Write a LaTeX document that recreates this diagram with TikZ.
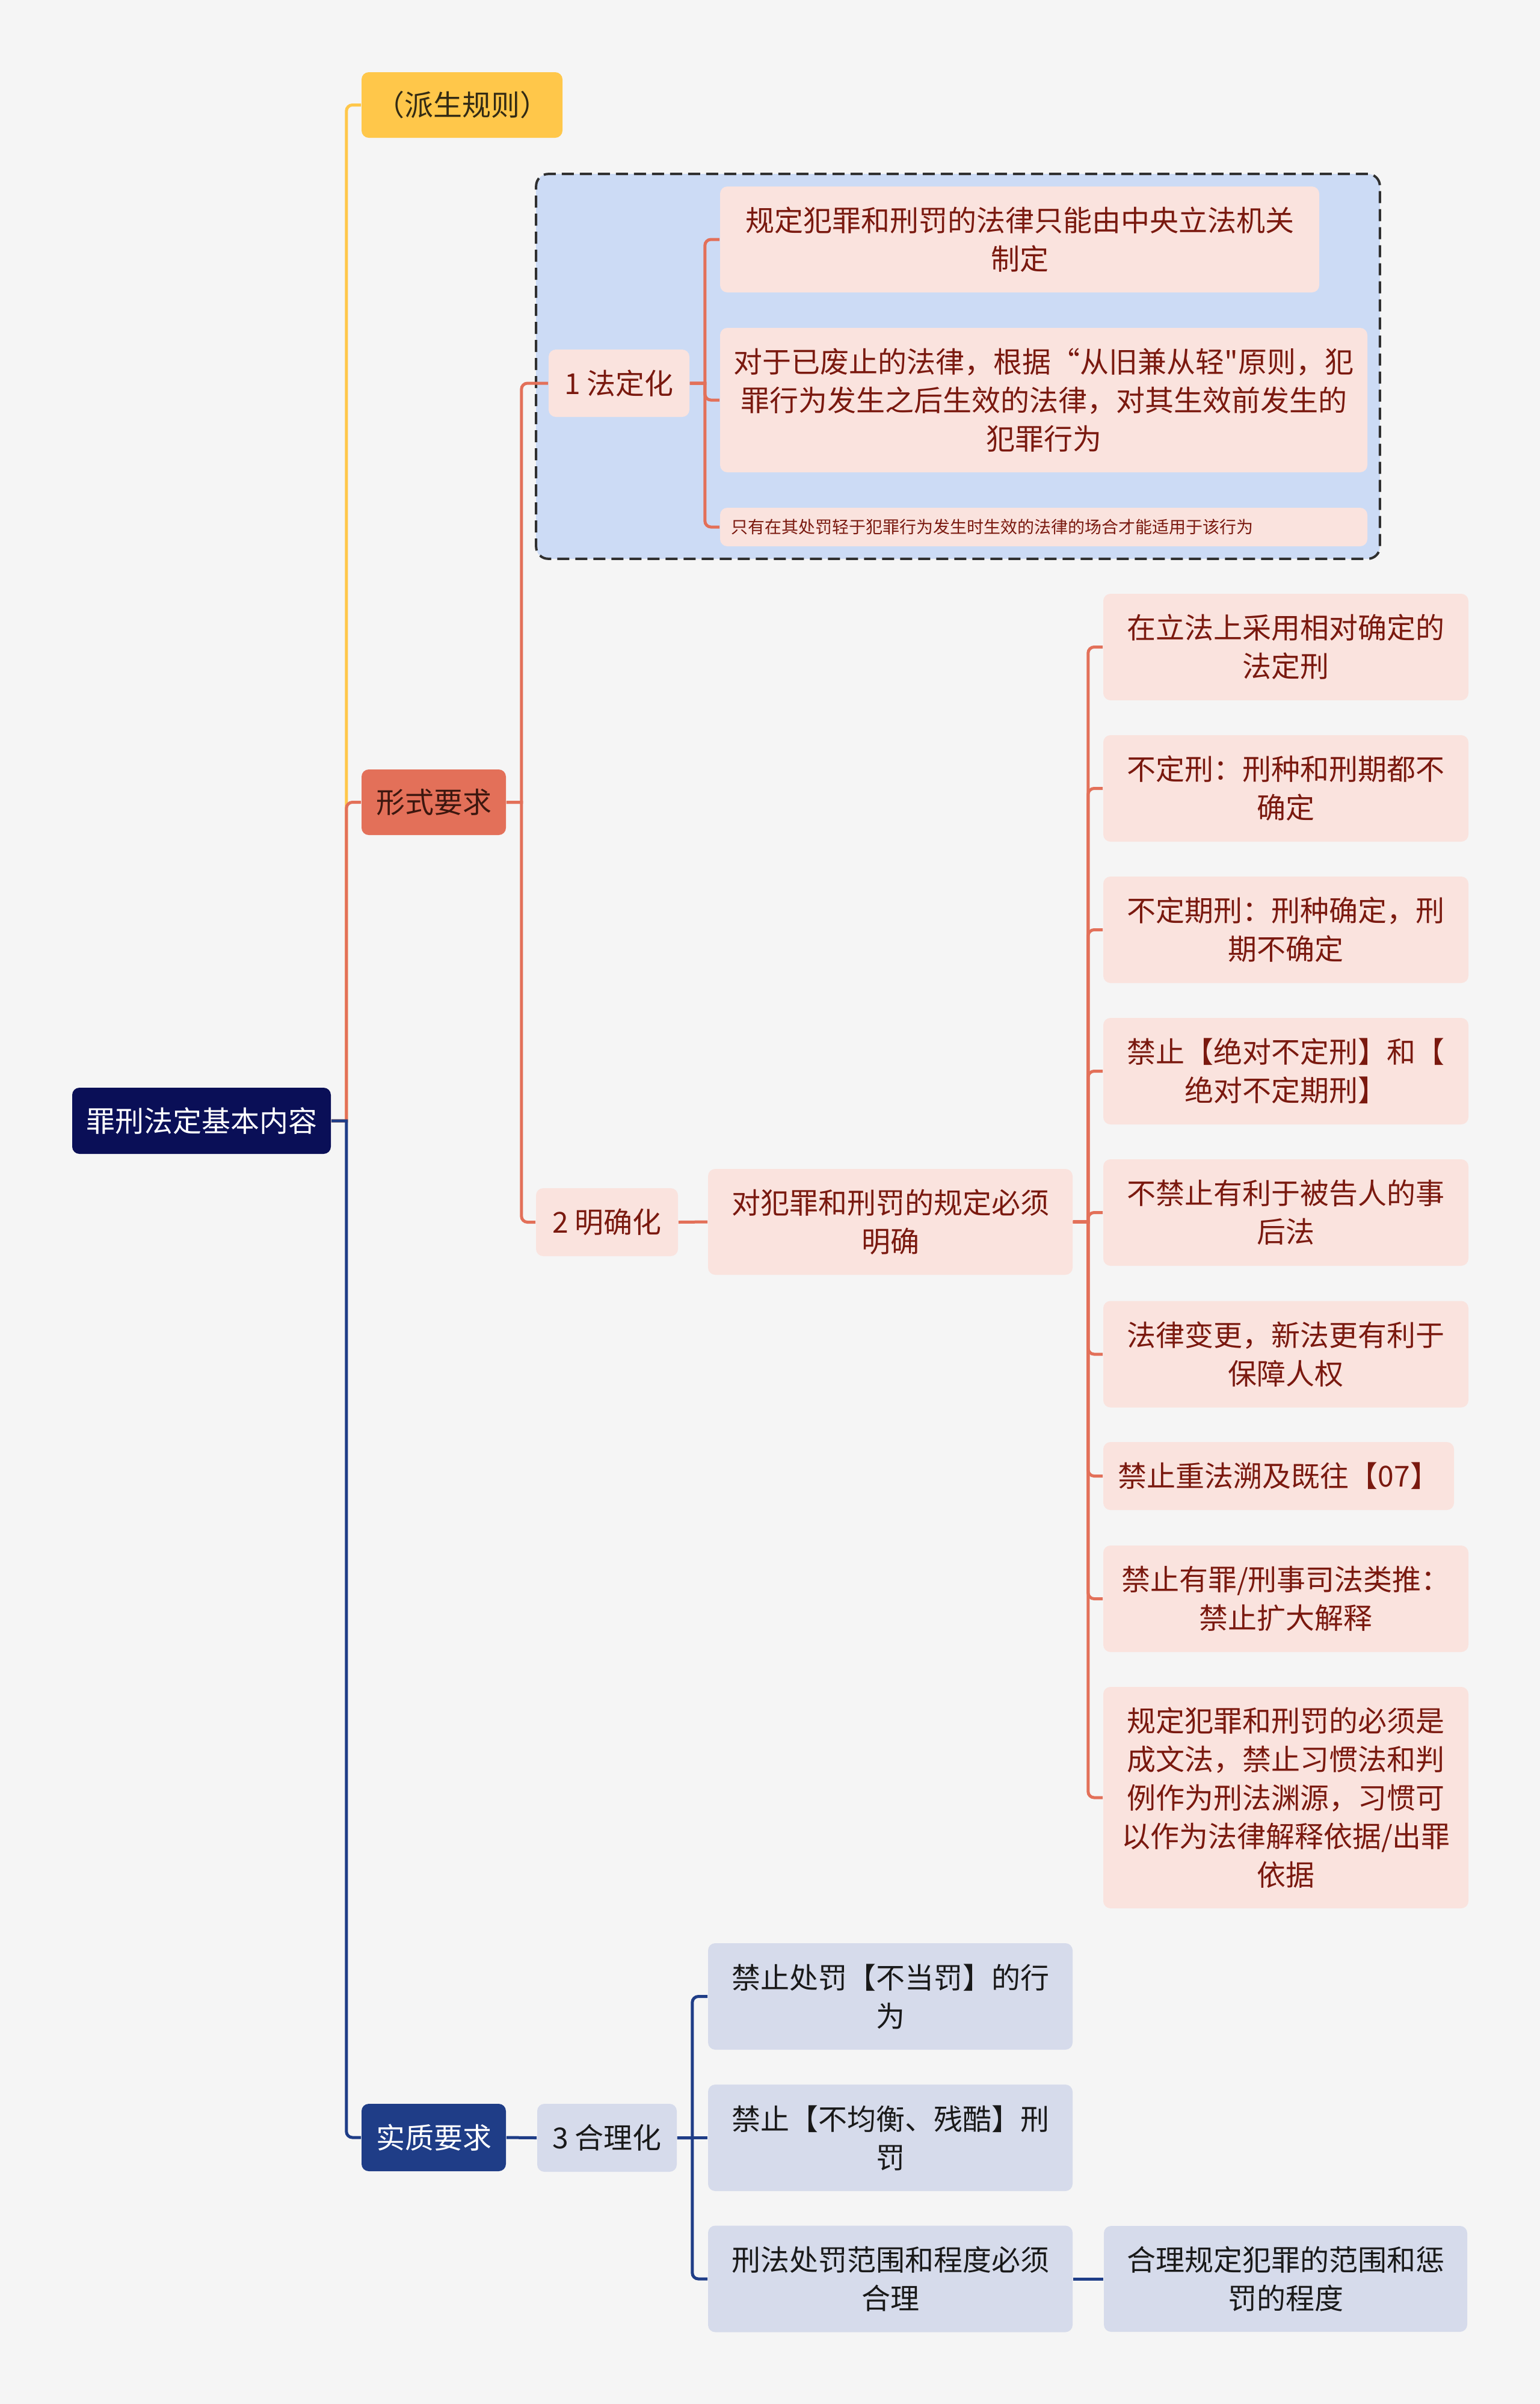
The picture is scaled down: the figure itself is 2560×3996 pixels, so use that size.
\documentclass[tikz,border=0pt]{standalone}
\usepackage{fontspec}
\setmainfont{Noto Sans CJK SC}[Ligatures=TeXOff]
\usetikzlibrary{backgrounds,fit}
\definecolor{fondo}{rgb}{0.96,0.96,0.96}
\definecolor{azulnoche}{rgb}{0.04,0.06,0.34}
\definecolor{azulreal}{rgb}{0.12,0.24,0.53}
\definecolor{amarillo}{rgb}{1.00,0.78,0.29}
\definecolor{naranja}{rgb}{0.89,0.44,0.35}
\definecolor{rosapalido}{rgb}{0.98,0.89,0.87}
\definecolor{rojooscuro}{rgb}{0.48,0.10,0.06}
\definecolor{grisazul}{rgb}{0.84,0.86,0.92}
\definecolor{azulgrupo}{rgb}{0.80,0.86,0.96}
\definecolor{tinta}{rgb}{0.10,0.10,0.10}
\definecolor{pardo}{rgb}{0.20,0.17,0.08}
\definecolor{granate}{rgb}{0.24,0.09,0.06}
\tikzset{
  caja/.style={
    rounded corners=3pt,
    align=center,
    inner sep=0pt,
    font=\fontsize{12pt}{16pt}\selectfont
  },
  raiz/.style={
    caja,
    fill=azulnoche,
    text=white,
    minimum width=107.5pt,
    minimum height=27.5pt
  },
  rosa/.style={
    caja,
    fill=rosapalido,
    text=rojooscuro,
    minimum width=151.75pt,
    minimum height=44.25pt
  },
  gris/.style={
    caja,
    fill=grisazul,
    text=tinta,
    minimum width=151.5pt,
    minimum height=44.25pt
  },
  grupo/.style={
    rounded corners=5pt,
    draw=tinta!90,
    fill=azulgrupo,
    line width=1pt,
    dash pattern=on 5pt off 2.5pt,
    inner sep=5pt
  },
  enlace/.style={
    line width=1.25pt,
    draw=#1
  }
}

\begin{document}
\begin{tikzpicture}[x=0.25pt,y=-0.25pt]
\useasboundingbox (0,0) rectangle (2560,3996);
\begin{scope}[on background layer]
\fill[fondo] (0,0) rectangle (2560,3996);
\end{scope}

% raiz y ramas
\node[raiz] (raiz) at (335,1863) {罪刑法定基本内容};
\node[caja,fill=amarillo,text=pardo,minimum width=83.5pt,minimum height=27.25pt] (pai) at (768,174.5) {\addfontfeatures{RawFeature=+halt}（派生规则）};
\node[caja,fill=naranja,text=granate,minimum width=60pt,minimum height=27.25pt] (xingshi) at (721,1333.5) {形式要求};
\node[caja,fill=azulreal,text=white,minimum width=60pt,minimum height=28pt] (shizhi) at (721,3553) {实质要求};

% 1 法定化
\node[rosa,minimum width=58.5pt,minimum height=28pt] (fa) at (1029,637) {1 法定化};
\node[rosa,minimum width=249pt,minimum height=44pt] (fa1) at (1695,398) {规定犯罪和刑罚的法律只能由中央立法机关\\制定};
\node[rosa,minimum width=269pt,minimum height=60pt] (fa2) at (1735,665) {对于已废止的法律，根据“从旧兼从轻"原则，犯\\罪行为发生之后生效的法律，对其生效前发生的\\犯罪行为};
\node[rosa,minimum width=269pt,minimum height=16pt,text width=260pt,inner xsep=4.5pt,align=left,font=\fontsize{7pt}{9pt}\selectfont] (fa3) at (1735,876) {只有在其处罚轻于犯罪行为发生时生效的法律的场合才能适用于该行为};
\begin{scope}[on background layer]
\node[grupo,fit=(fa)(fa1)(fa2)(fa3)] (grupo) {};
\end{scope}

% 2 明确化
\node[rosa,minimum width=59pt,minimum height=28.25pt] (ming) at (1009,2031.5) {2 明确化};
\node[rosa,minimum width=151.5pt,minimum height=44pt] (mq) at (1480,2031) {对犯罪和刑罚的规定必须\\明确};
\node[rosa] (m1) at (2137.5,1075.5) {在立法上采用相对确定的\\法定刑};
\node[rosa] (m2) at (2137.5,1310.5) {不定刑：刑种和刑期都不\\确定};
\node[rosa] (m3) at (2137.5,1545.5) {不定期刑：刑种确定，刑\\期不确定};
\node[rosa] (m4) at (2137.5,1780.5) {禁止【绝对不定刑】和【\\绝对不定期刑】};
\node[rosa] (m5) at (2137.5,2015.5) {不禁止有利于被告人的事\\后法};
\node[rosa] (m6) at (2137.5,2251) {法律变更，新法更有利于\\保障人权};
\node[rosa,minimum width=145.75pt,minimum height=28.25pt] (m7) at (2125.5,2453.5) {禁止重法溯及既往【07】};
\node[rosa] (m8) at (2137.5,2657.5) {禁止有罪/刑事司法类推：\\禁止扩大解释};
\node[rosa,minimum height=92pt] (m9) at (2137.5,2988) {规定犯罪和刑罚的必须是\\成文法，禁止习惯法和判\\例作为刑法渊源，习惯可\\以作为法律解释依据/出罪\\依据};

% 3 合理化
\node[gris,minimum width=58pt,minimum height=28.25pt] (he) at (1009,3553.5) {3 合理化};
\node[gris] (b1) at (1480,3318.5) {禁止处罚【不当罚】的行\\为};
\node[gris] (b2) at (1480,3553.5) {禁止【不均衡、残酷】刑\\罚};
\node[gris] (b3) at (1480,3788) {刑法处罚范围和程度必须\\合理};
\node[gris,minimum width=151pt,minimum height=44pt] (b4) at (2137,3788) {合理规定犯罪的范围和惩\\罚的程度};

% enlaces
\draw[enlace=amarillo] (raiz.east) -- ++(25,0) [rounded corners=2.5pt] |- (pai.west);
\draw[enlace=naranja] (raiz.east) -- ++(25,0) [rounded corners=2.5pt] |- (xingshi.west);
\draw[enlace=azulreal] (raiz.east) -- ++(25,0) [rounded corners=2.5pt] |- (shizhi.west);
\foreach \n in {fa,ming}
  \draw[enlace=naranja] (xingshi.east) -- ++(25,0) [rounded corners=2.5pt] |- (\n.west);
\foreach \n in {fa1,fa2,fa3}
  \draw[enlace=naranja] (fa.east) -- ++(25,0) [rounded corners=2.5pt] |- (\n.west);
\draw[enlace=naranja] (ming.east) -- (mq.west);
\foreach \n in {m1,m2,m3,m4,m5,m6,m7,m8,m9}
  \draw[enlace=naranja] (mq.east) -- ++(25,0) [rounded corners=2.5pt] |- (\n.west);
\draw[enlace=azulreal] (shizhi.east) -- (he.west);
\foreach \n in {b1,b3}
  \draw[enlace=azulreal] (he.east) -- ++(25,0) [rounded corners=2.5pt] |- (\n.west);
\draw[enlace=azulreal] (he.east) -- (b2.west);
\draw[enlace=azulreal] (b3.east) -- (b4.west);
\end{tikzpicture}
\end{document}
